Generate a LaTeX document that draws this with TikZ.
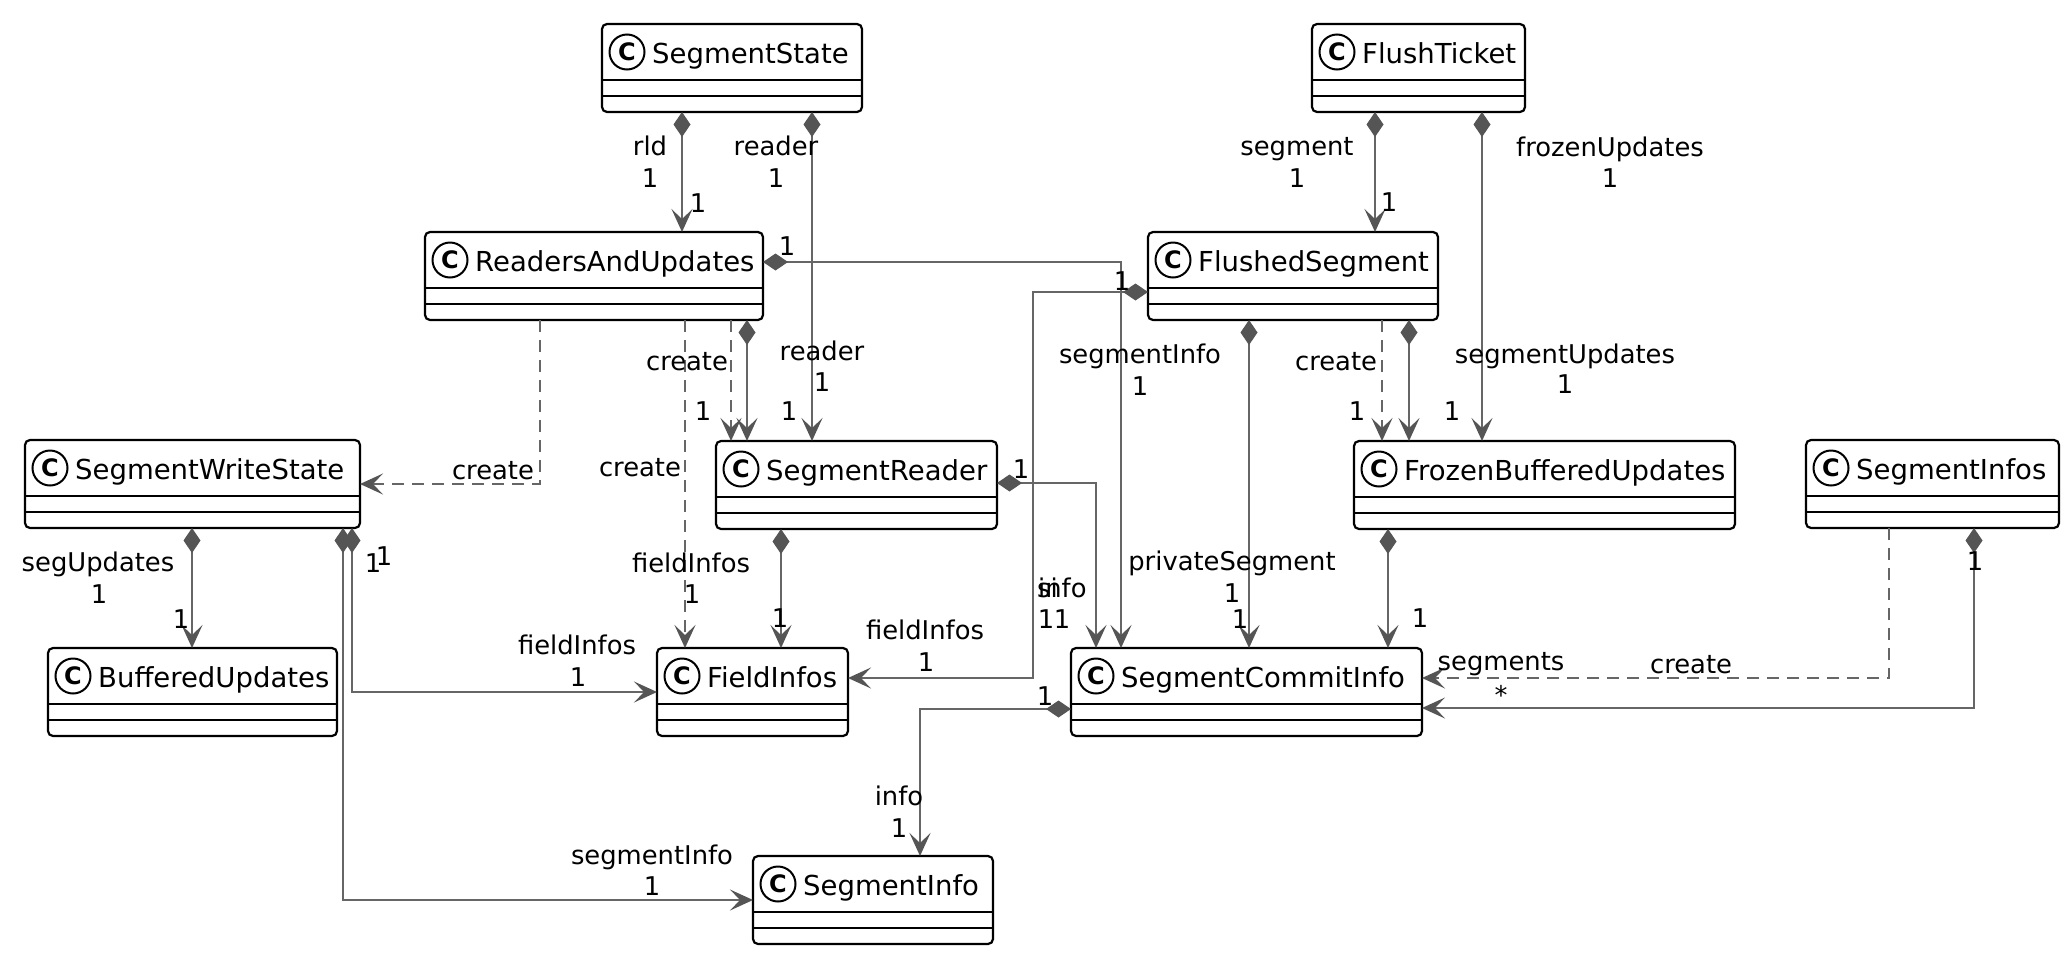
\documentclass[tikz,border=0pt]{standalone}
\usepackage{fontspec}
\setmainfont{DejaVu Sans}
\usetikzlibrary{arrows.meta}
\definecolor{lnc}{HTML}{666666}
\definecolor{dmc}{HTML}{555555}
\newcommand{\lblfont}{\fontsize{25.8}{30}\selectfont}
\newcommand{\clsfont}{\fontsize{27.5}{32}\selectfont}
\newcommand{\cfont}{\fontsize{24}{28}\selectfont\bfseries}
\tikzset{
  clsbox/.style={draw=black, line width=2.2pt, fill=white, rounded corners=5pt, rectangle,
    inner sep=0pt, outer sep=0pt, anchor=north west, minimum height=88pt},
  sepline/.style={draw=black, line width=2pt},
  circc/.style={circle, draw=black, line width=2pt, fill=white, minimum size=35pt, inner sep=0pt, font=\cfont},
  clsname/.style={font=\clsfont, inner sep=0pt, anchor=base west},
  lbl/.style={font=\lblfont, inner sep=0pt, anchor=base},
  lblw/.style={font=\lblfont, inner sep=0pt, anchor=base west},
  conn/.style={draw=lnc, line width=1.6pt},
  comp/.style={conn, {Diamond[length=25pt,width=17pt,color=dmc,fill=dmc]}-{Stealth[length=23pt,width=21pt,inset=10pt,color=dmc,fill=dmc]}},
  dep/.style={conn, dash pattern=on 12pt off 8pt, -{Stealth[length=23pt,width=21pt,inset=10pt,color=dmc,fill=dmc]}}
}
\newcommand{\umlcls}[5]{%
  \node[clsbox, minimum width={(#4-#2)*1pt}] (#1) at (#2,#3) {};
  \draw[sepline] ([yshift=-56pt]#1.north west) -- ([yshift=-56pt]#1.north east);
  \draw[sepline] ([yshift=-72pt]#1.north west) -- ([yshift=-72pt]#1.north east);
  \node[circc] (#1-c) at ([xshift=25pt,yshift=-28pt]#1.north west) {C};
  \node[clsname] (#1-n) at ([xshift=50pt,yshift=-39pt]#1.north west) {#5};
}
\begin{document}
\begin{tikzpicture}[x=1pt,y=-1pt]
\useasboundingbox (0,0) rectangle (2071,956);
\fill[white] (0,0) rectangle (2071,956);

% classes
\umlcls{SS}{602}{24}{862}{SegmentState}
\umlcls{FT}{1312}{24}{1525}{FlushTicket}
\umlcls{RAU}{425}{232}{763}{ReadersAndUpdates}
\umlcls{FS}{1148}{232}{1438}{FlushedSegment}
\umlcls{SWS}{25}{440}{360}{SegmentWriteState}
\umlcls{SR}{716}{441}{997}{SegmentReader}
\umlcls{FBU}{1354}{441}{1735}{FrozenBufferedUpdates}
\umlcls{SIs}{1806}{440}{2059}{SegmentInfos}
\umlcls{BU}{48}{648}{337}{BufferedUpdates}
\umlcls{FI}{657}{648}{848}{FieldInfos}
\umlcls{SCI}{1071}{648}{1422}{SegmentCommitInfo}
\umlcls{SI}{753}{856}{993}{SegmentInfo}

% connectors
\draw[comp] ([xshift=80pt]SS.south west) -- ([xshift=257pt]RAU.north west);
\draw[comp] ([xshift=210pt]SS.south west) -- ([xshift=96pt]SR.north west);
\draw[comp] ([xshift=63pt]FT.south west) -- ([xshift=227pt]FS.north west);
\draw[comp] ([xshift=170pt]FT.south west) -- ([xshift=128pt]FBU.north west);
\draw[dep] ([xshift=115pt]RAU.south west) |- ([yshift=-44pt]SWS.north east);
\draw[dep] ([xshift=260pt]RAU.south west) -- ([xshift=28pt]FI.north west);
\draw[dep] ([xshift=306pt]RAU.south west) -- ([xshift=15pt]SR.north west);
\draw[comp] ([xshift=322pt]RAU.south west) -- ([xshift=31pt]SR.north west);
\draw[comp] ([yshift=-30pt]RAU.north east) -| ([xshift=50pt]SCI.north west);
\draw[comp] ([yshift=-60pt]FS.north west) -- ++(-115,0) |- ([yshift=-30pt]FI.north east);
\draw[comp] ([xshift=101pt]FS.south west) -- ([xshift=178pt]SCI.north west);
\draw[dep] ([xshift=234pt]FS.south west) -- ([xshift=28pt]FBU.north west);
\draw[comp] ([xshift=261pt]FS.south west) -- ([xshift=55pt]FBU.north west);
\draw[comp] ([yshift=-42pt]SR.north east) -| ([xshift=25pt]SCI.north west);
\draw[comp] ([xshift=65pt]SR.south west) -- ([xshift=124pt]FI.north west);
\draw[comp] ([xshift=34pt]FBU.south west) -- ([xshift=317pt]SCI.north west);
\draw[comp] ([xshift=167pt]SWS.south west) -- ([xshift=144pt]BU.north west);
\draw[comp] ([xshift=327pt]SWS.south west) |- ([yshift=-44pt]FI.north west);
\draw[comp] ([xshift=318pt]SWS.south west) |- ([yshift=-44pt]SI.north west);
\draw[dep] ([xshift=83pt]SIs.south west) |- ([yshift=-30pt]SCI.north east);
\draw[comp] ([xshift=168pt]SIs.south west) |- ([yshift=-60pt]SCI.north east);
\draw[comp] ([yshift=-61pt]SCI.north west) -| ([xshift=167pt]SI.north west);

% labels
\node[lbl] (L1) at (650,155) {rld};
\node[lbl] (L2) at (650,187) {1};
\node[lbl] (L3) at (698,212) {1};
\node[lbl] (L4) at (776,155) {reader};
\node[lbl] (L5) at (776,187) {1};
\node[lbl] (L6) at (1297,155) {segment};
\node[lbl] (L7) at (1297,187) {1};
\node[lbl] (L8) at (1389,211) {1};
\node[lbl] (L9) at (1610,156) {frozenUpdates};
\node[lbl] (L10) at (1610,187) {1};
\node[lbl] (L11) at (787,255) {1};
\node[lbl] (L12) at (1122,290) {1};
\node[lbl] (L13) at (687,370) {create};
\node[lbl] (L14) at (703,420) {1};
\node[lbl] (L15) at (822,360) {reader};
\node[lbl] (L16) at (822,391) {1};
\node[lbl] (L17) at (789,420) {1};
\node[lbl] (L18) at (1140,363) {segmentInfo};
\node[lbl] (L19) at (1140,395) {1};
\node[lbl] (L20) at (1336,370) {create};
\node[lbl] (L21) at (1357,420) {1};
\node[lbl] (L22) at (1565,363) {segmentUpdates};
\node[lbl] (L23) at (1565,393) {1};
\node[lbl] (L24) at (1452,420) {1};
\node[lbl] (L25) at (493,479) {create};
\node[lbl] (L26) at (640,476) {create};
\node[lbl] (L27) at (1021,478) {1};
\node[lbl] (L28) at (98,571) {segUpdates};
\node[lbl] (L29) at (99,603) {1};
\node[lbl] (L30) at (181,628) {1};
\node[lbl] (L31) at (373,572) {1};
\node[lbl] (L32) at (384,565) {1};
\node[lbl] (L33) at (691,572) {fieldInfos};
\node[lbl] (L34) at (692,603) {1};
\node[lbl] (L35) at (780,627) {1};
\node[lblw] (L36) at (1037,597) {si};
\node[lblw] (L37) at (1038,597) {info};
\node[lbl] (L38) at (1046,628) {1};
\node[lbl] (L39) at (1062,628) {1};
\node[lbl] (L40) at (1232,570) {privateSegment};
\node[lbl] (L41) at (1232,602) {1};
\node[lbl] (L42) at (1240,628) {1};
\node[lbl] (L43) at (1420,627) {1};
\node[lbl] (L44) at (1975,570) {1};
\node[lbl] (L45) at (577,654) {fieldInfos};
\node[lbl] (L46) at (578,686) {1};
\node[lbl] (L47) at (925,639) {fieldInfos};
\node[lbl] (L48) at (926,671) {1};
\node[lbl] (L49) at (1501,670) {segments};
\node[lbl] (L50) at (1501,704) {*};
\node[lbl] (L51) at (1691,673) {create};
\node[lbl] (L52) at (1045,705) {1};
\node[lbl] (L53) at (899,805) {info};
\node[lbl] (L54) at (899,837) {1};
\node[lbl] (L55) at (652,864) {segmentInfo};
\node[lbl] (L56) at (652,895) {1};
\end{tikzpicture}
\end{document}
